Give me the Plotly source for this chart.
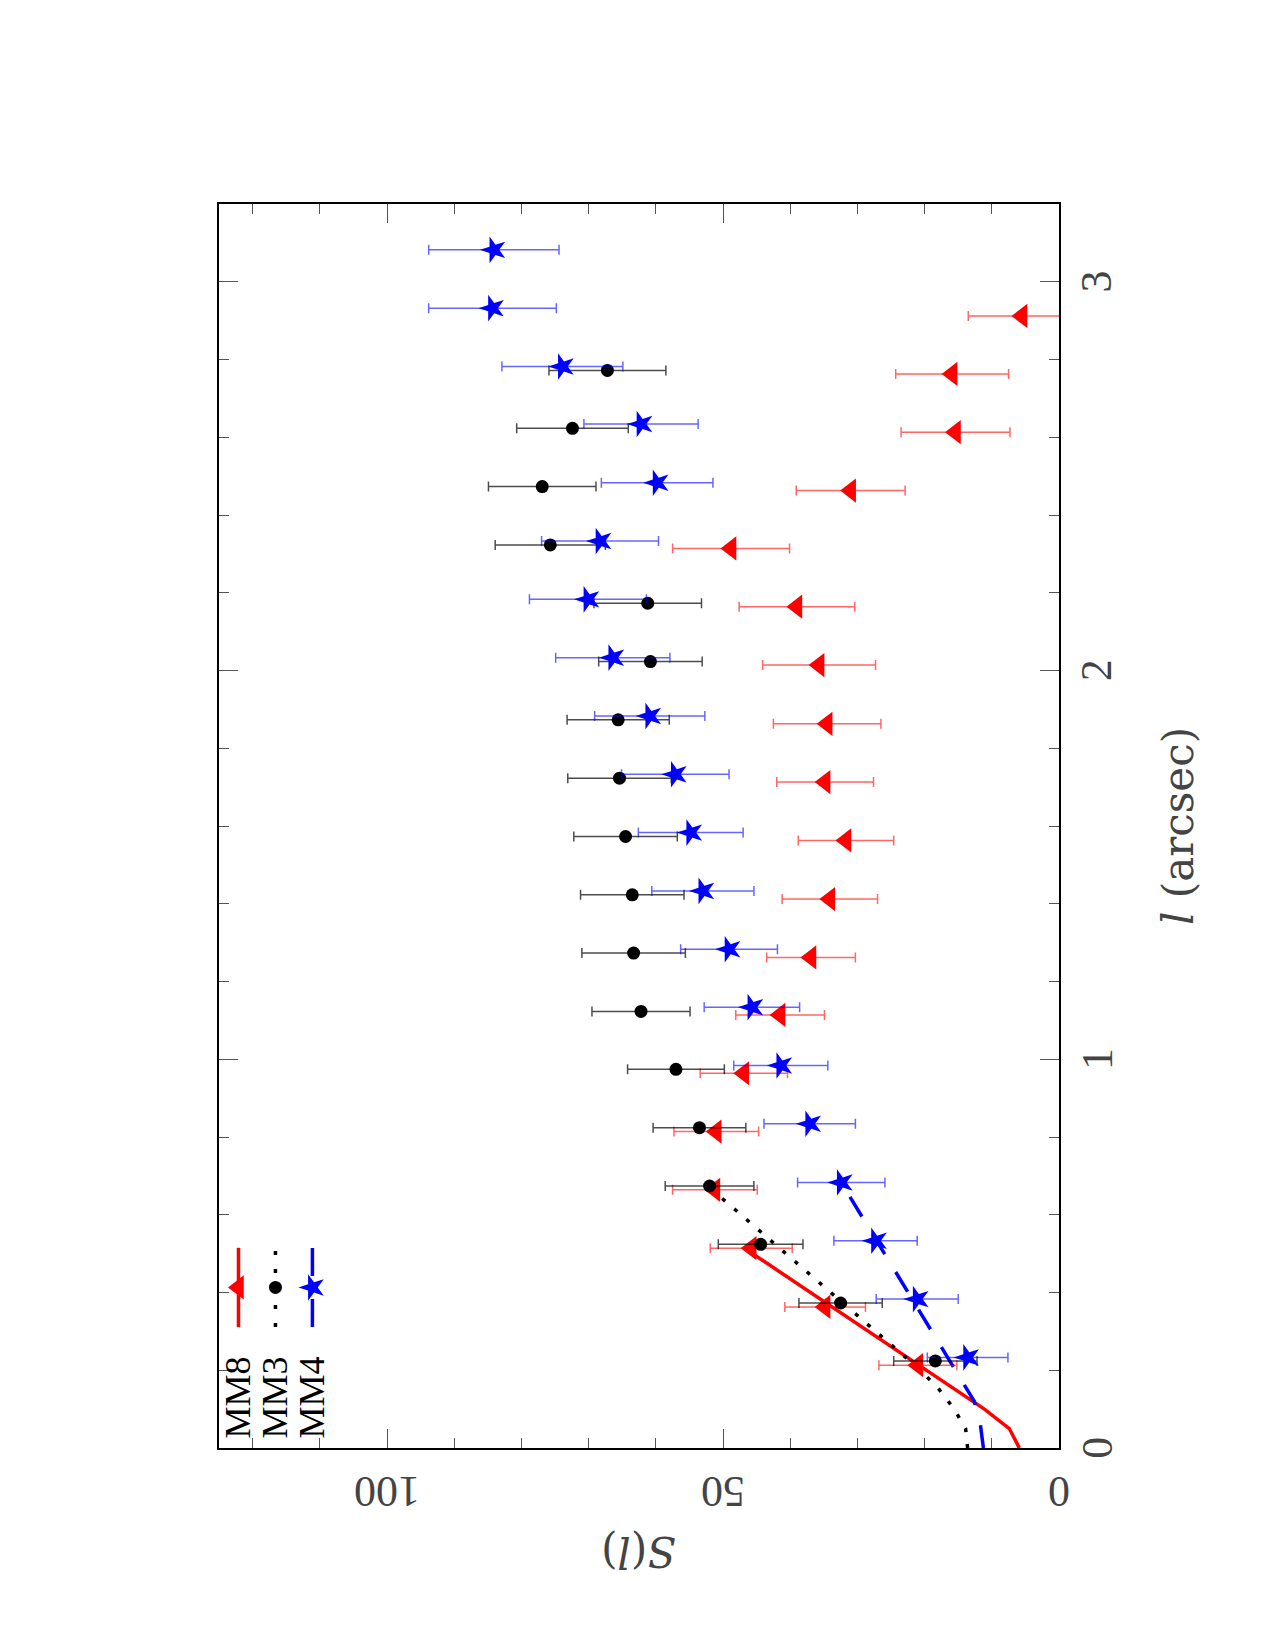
import plotly.graph_objects as go

# ---- data (l in arcsec, S(l)) ----
l_mm8 = [0.213, 0.363, 0.514, 0.664, 0.814, 0.964, 1.114, 1.262, 1.412, 1.563,
         1.713, 1.863, 2.014, 2.164, 2.314, 2.463, 2.613, 2.763, 2.912]
s_mm8 = [21.0, 34.8, 45.8, 51.2, 51.0, 46.9, 41.5, 36.9, 34.1, 31.7,
         34.8, 34.5, 35.7, 39.0, 48.8, 31.0, 15.4, 15.9, 5.5]
e_mm8 = [5.8, 6.0, 6.1, 6.3, 6.3, 6.5, 6.6, 6.6, 7.1, 7.1,
         7.2, 8.0, 8.4, 8.6, 8.7, 8.1, 8.1, 8.4, 8.0]

l_mm3 = [0.224, 0.373, 0.524, 0.674, 0.824, 0.974, 1.123, 1.273, 1.423, 1.573,
         1.723, 1.873, 2.023, 2.173, 2.323, 2.473, 2.623, 2.772]
s_mm3 = [18.4, 32.5, 44.4, 52.0, 53.5, 57.0, 62.2, 63.3, 63.5, 64.5,
         65.4, 65.6, 60.8, 61.2, 75.7, 76.9, 72.4, 67.2]
e_mm3 = [6.2, 6.2, 6.3, 6.6, 6.9, 7.2, 7.3, 7.7, 7.7, 7.7,
         7.7, 7.6, 7.7, 8.0, 8.2, 8.0, 8.3, 8.7]

l_mm4 = [0.233, 0.383, 0.533, 0.683, 0.834, 0.984, 1.134, 1.283, 1.433, 1.583,
         1.733, 1.883, 2.033, 2.183, 2.333, 2.483, 2.634, 2.782, 2.932, 3.082]
s_mm4 = [13.6, 21.1, 27.3, 32.4, 37.1, 41.4, 45.7, 49.1, 53.0, 54.8,
         57.1, 60.9, 66.4, 70.1, 68.3, 59.8, 62.2, 73.9, 84.3, 84.1]
e_mm4 = [6.0, 6.1, 6.2, 6.5, 6.8, 7.0, 7.1, 7.2, 7.6, 7.8,
         8.0, 8.2, 8.5, 8.7, 8.7, 8.3, 8.5, 9.0, 9.5, 9.7]

# model curves
l_mod8 = [0.0, 0.05, 0.10, 0.50]
s_mod8 = [5.9, 7.4, 11.1, 45.6]
l_mod3 = [0.0, 0.05, 0.10, 0.15, 0.20, 0.67]
s_mod3 = [13.6, 13.9, 15.6, 17.8, 20.6, 52.0]
l_mod4 = [0.0, 0.06, 0.12, 0.68]
s_mod4 = [11.25, 11.7, 12.6, 32.3]

names = ["MM8", "MM3", "MM4"]
x_ticks = [0, 50, 100]
y_ticks = [0, 1, 2, 3]

RED, BLK, BLU = "#ff0000", "#000000", "#0000ff"
SERIF = "Liberation Serif"
TSERIF = "DejaVu Serif"

fig = go.Figure()

# model lines
fig.add_trace(go.Scatter(x=s_mod8, y=l_mod8, mode="lines",
                         line=dict(color=RED, width=3.5)))
fig.add_trace(go.Scatter(x=s_mod3, y=l_mod3, mode="lines",
                         line=dict(color=BLK, width=3.5, dash="4px,12px")))
fig.add_trace(go.Scatter(x=s_mod4, y=l_mod4, mode="lines",
                         line=dict(color=BLU, width=3.5, dash="23px,21px")))

# data points
fig.add_trace(go.Scatter(
    x=s_mm8, y=l_mm8, mode="markers",
    marker=dict(symbol="triangle-left", size=21, color=RED),
    error_x=dict(type="data", array=e_mm8, color="rgba(255,0,0,0.6)",
                 thickness=1.5, width=5)))
fig.add_trace(go.Scatter(
    x=s_mm3, y=l_mm3, mode="markers",
    marker=dict(symbol="circle", size=13, color=BLK),
    error_x=dict(type="data", array=e_mm3, color="rgba(0,0,0,0.7)",
                 thickness=1.5, width=5)))
fig.add_trace(go.Scatter(
    x=s_mm4, y=l_mm4, mode="markers",
    marker=dict(symbol="star", size=20, color=BLU, angle=-90),
    error_x=dict(type="data", array=e_mm4, color="rgba(0,0,255,0.6)",
                 thickness=1.5, width=5)))

# ---- hand-drawn legend (rotated frame) ----
leg_x = [122.1, 116.6, 111.1]
leg_y0, leg_y1, leg_ym, leg_ytxt = 0.311, 0.515, 0.413, 0.131
leg_styles = [
    (RED, None, "triangle-left", 21, 0),
    (BLK, "4px,14px", "circle", 13, 0),
    (BLU, "28px,23px", "star", 20, -90),
]
for xi, (col, dash, sym, sz, ang), nm in zip(leg_x, leg_styles, names):
    ln = dict(color=col, width=3.5)
    if dash:
        ln["dash"] = dash
    fig.add_trace(go.Scatter(x=[xi, xi], y=[leg_y0, leg_y1], mode="lines", line=ln))
    fig.add_trace(go.Scatter(x=[xi], y=[leg_ym], mode="markers",
                             marker=dict(symbol=sym, size=sz, color=col, angle=ang)))
    fig.add_annotation(x=xi, y=leg_ytxt, xref="x", yref="y", text=nm,
                       showarrow=False, textangle=-90,
                       xanchor="center", yanchor="middle",
                       font=dict(family=SERIF, size=36, color="#000"))

# tick labels (rotated like the original page)
tickfont = dict(family=SERIF, size=44, color="#444")
for v in x_ticks:
    fig.add_annotation(x=v, y=-0.0354, xref="x", yref="paper", text=str(v),
                       showarrow=False, textangle=180,
                       xanchor="center", yanchor="middle", font=tickfont)
for v in y_ticks:
    fig.add_annotation(x=1.045, y=v, xref="paper", yref="y", text=str(v),
                       showarrow=False, textangle=-90,
                       xanchor="center", yanchor="middle", font=tickfont)

# axis titles
fig.add_annotation(x=0.5, y=-0.0834, xref="paper", yref="paper",
                   text="<i>S</i>(<i>l</i>)", showarrow=False, textangle=180,
                   xanchor="center", yanchor="middle",
                   font=dict(family=TSERIF, size=42, color="#444"))
fig.add_annotation(x=1.1417, y=0.5, xref="paper", yref="paper",
                   text="<i>l</i> (arcsec)", showarrow=False, textangle=-90,
                   xanchor="center", yanchor="middle",
                   font=dict(family=TSERIF, size=42, color="#444"))

fig.update_layout(
    width=1275, height=1650, autosize=False,
    margin=dict(l=219, r=216, t=204, b=202),
    plot_bgcolor="white", paper_bgcolor="white",
    showlegend=False,
    xaxis=dict(range=[125, 0], autorange=False,
               tickvals=x_ticks, showticklabels=False,
               ticks="inside", ticklen=19, tickwidth=1.3, tickcolor="#555",
               minor=dict(dtick=10, tick0=0, ticks="inside", ticklen=10,
                          tickwidth=1.3, tickcolor="#555"),
               showline=True, linecolor="#000", linewidth=1.5, mirror="ticks",
               showgrid=False, zeroline=False),
    yaxis=dict(range=[0, 3.2], autorange=False, side="right",
               tickvals=y_ticks, showticklabels=False,
               ticks="inside", ticklen=19, tickwidth=1.3, tickcolor="#555",
               minor=dict(dtick=0.2, tick0=0, ticks="inside", ticklen=10,
                          tickwidth=1.3, tickcolor="#555"),
               showline=True, linecolor="#000", linewidth=1.5, mirror="ticks",
               showgrid=False, zeroline=False),
)

fig.write_html("out.html")
